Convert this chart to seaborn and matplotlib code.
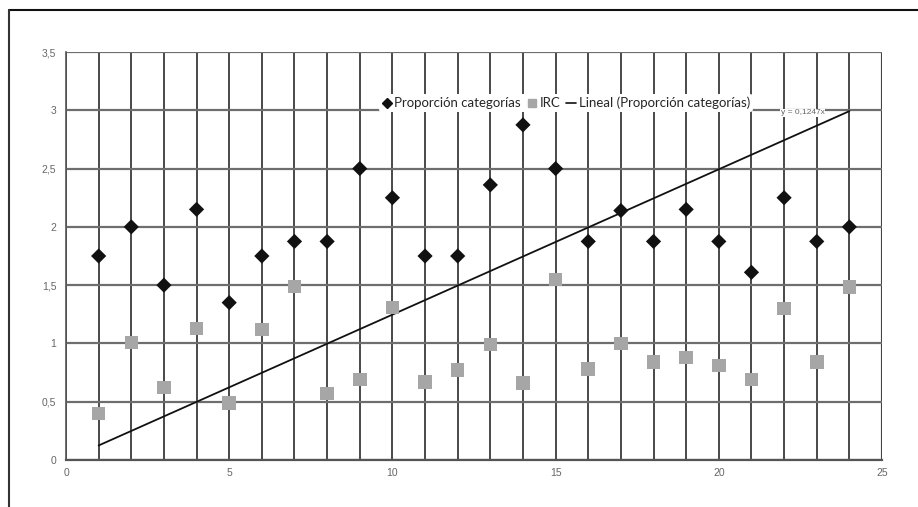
import matplotlib
matplotlib.use("Agg")
import matplotlib.pyplot as plt
from matplotlib.lines import Line2D
from matplotlib.ticker import MultipleLocator, FuncFormatter
import seaborn as sns
import pandas as pd
import numpy as np

# ---- data ----
x_vals = list(range(1, 25))
proporcion = [1.75, 2.0, 1.5, 2.15, 1.35, 1.75, 1.875, 1.875, 2.5, 2.25, 1.75, 1.75,
              2.36, 2.875, 2.5, 1.875, 2.14, 1.875, 2.15, 1.875, 1.61, 2.25, 1.875, 2.0]
irc = [0.4, 1.01, 0.62, 1.13, 0.49, 1.12, 1.49, 0.57, 0.69, 1.31, 0.67, 0.77,
       0.99, 0.66, 1.55, 0.78, 1.0, 0.84, 0.88, 0.81, 0.69, 1.30, 0.84, 1.485]
trend_slope = 0.1247
trend_x = [1, 24]
legend_labels = ["Proporción categorías", "IRC", "Lineal (Proporción categorías)"]
eq_label = "y = 0,1247x"

df = pd.DataFrame({"x": x_vals, "prop": proporcion, "irc": irc})
trend_df = pd.DataFrame({"x": trend_x, "y": [trend_slope * v for v in trend_x]})

sns.set_theme(style="white")
plt.rcParams['font.family'] = ['Liberation Sans', 'DejaVu Sans']

fig = plt.figure(figsize=(9.18, 5.07), dpi=100)
ax = fig.add_axes([0.0719, 0.0927, 0.9608 - 0.0719, 0.8974 - 0.0927])

ax.set_xlim(0, 25)
ax.set_ylim(0, 3.5)

# grid
ax.xaxis.set_major_locator(MultipleLocator(5))
ax.xaxis.set_minor_locator(MultipleLocator(1))
ax.yaxis.set_major_locator(MultipleLocator(0.5))
ax.grid(True, which="major", axis="y", color="#6e6e6e", lw=1.6, zorder=0)
ax.grid(True, which="both", axis="x", color="#3a3a3a", lw=1.3, zorder=0)
ax.set_axisbelow(True)

for s in ["top", "right"]:
    ax.spines[s].set_visible(False)
ax.spines["left"].set_color("#555555")
ax.spines["bottom"].set_color("#555555")
ax.spines["left"].set_linewidth(1.2)
ax.spines["bottom"].set_linewidth(1.6)
ax.axvline(25, color="#9a9a9a", lw=1.6, zorder=0)

sns.lineplot(data=trend_df, x="x", y="y", ax=ax, color="#111111", lw=1.3, zorder=2)
sns.scatterplot(data=df, x="x", y="irc", ax=ax, marker="s", s=95, color="#a6a6a6",
                edgecolor="none", zorder=3)
sns.scatterplot(data=df, x="x", y="prop", ax=ax, marker="D", s=60, color="#111111",
                edgecolor="none", zorder=4)

ax.set_xlabel("")
ax.set_ylabel("")
fmt = FuncFormatter(lambda v, p: ("%g" % v).replace(".", ","))
ax.xaxis.set_major_formatter(fmt)
ax.yaxis.set_major_formatter(fmt)
ax.tick_params(axis="both", which="major", labelsize=7.5, colors="#555555", length=2, pad=4)
ax.tick_params(axis="x", which="minor", length=0)
ax.tick_params(axis="y", length=3)
for lbl in ax.get_xticklabels() + ax.get_yticklabels():
    lbl.set_color("#666666")

# equation label
ax.text(21.9, 2.98, eq_label, fontsize=6, color="#666666",
        ha="left", va="center", zorder=5,
        bbox=dict(facecolor="white", edgecolor="none", pad=0.3))

# legend
handles = [
    Line2D([], [], marker="D", ls="none", color="#111111", markersize=5),
    Line2D([], [], marker="s", ls="none", color="#a6a6a6", markersize=6),
    Line2D([], [], color="#111111", lw=1.2),
]
leg = ax.legend(handles, legend_labels, ncol=3, frameon=True, loc="center left",
                bbox_to_anchor=(0.375, 0.875), handlelength=0.8, handletextpad=0.2,
                columnspacing=0.4, borderpad=0.2,
                prop={"family": "Lato", "size": 9.5})
leg.get_frame().set_facecolor("white")
leg.get_frame().set_edgecolor("none")
leg.get_frame().set_alpha(1)
leg.set_zorder(6)

# outer frame lines (top & left)
fig.add_artist(Line2D([0.0098, 1.0], [0.980, 0.980], color="#111111", lw=1.5,
                      transform=fig.transFigure))
fig.add_artist(Line2D([0.0098, 0.0098], [0.0, 0.980], color="#333333", lw=1.5,
                      transform=fig.transFigure))

fig.savefig("out.png", dpi=100)
